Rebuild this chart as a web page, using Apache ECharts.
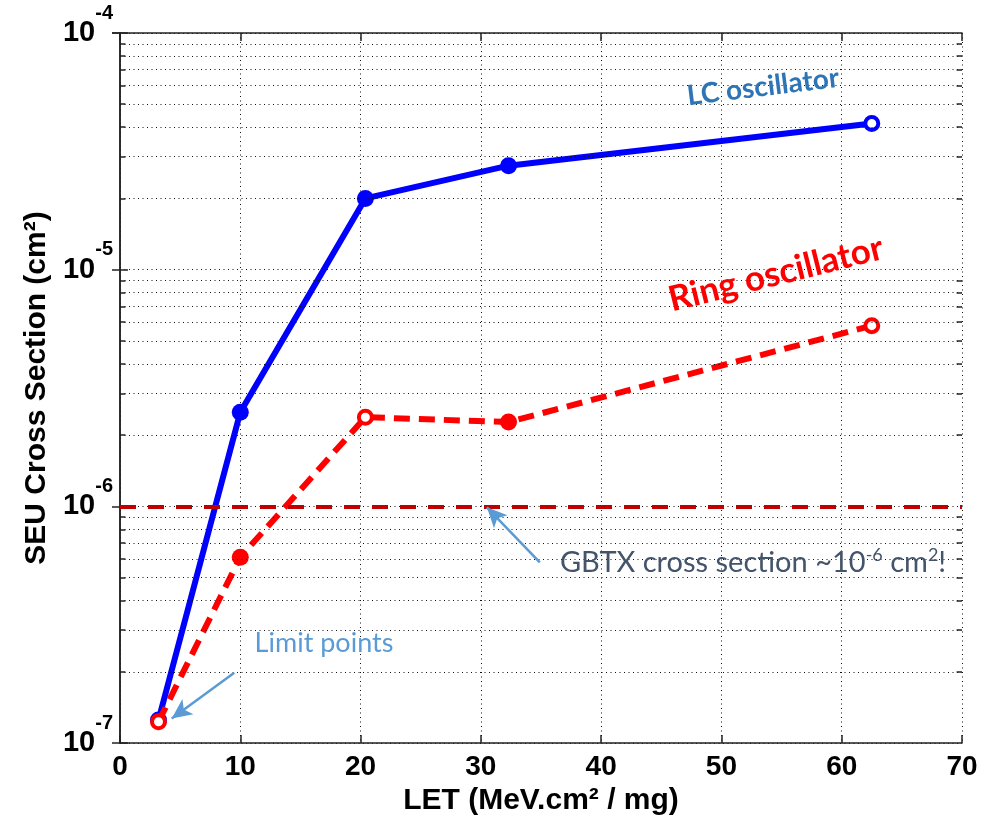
<!DOCTYPE html>
<html>
<head>
<meta charset="utf-8">
<script src="https://cdn.jsdelivr.net/npm/echarts@6/dist/echarts.min.js"></script>
<style>
  html, body { margin: 0; padding: 0; background: #fff; }
  #chart { width: 1002px; height: 815px; }
</style>
</head>
<body>
<div id="chart"></div>
<script>
// LET (MeV.cm2/mg) and SEU cross sections (cm2)
const letLC = [3.2, 10, 20.4, 32.3, 62.5];
const seuLC = [1.25e-7, 2.5e-6, 2.0e-5, 2.75e-5, 4.15e-5];
const limitLC = [true, false, false, false, true];

const letRing = [3.2, 10, 20.4, 32.3, 62.5];
const seuRing = [1.23e-7, 6.1e-7, 2.38e-6, 2.27e-6, 5.8e-6];
const limitRing = [true, false, true, false, true];

const gbtxLevel = 1e-6;
const xTicks = [0, 10, 20, 30, 40, 50, 60, 70];
const yDecades = [-7, -6, -5, -4];

// arrow annotations, in data coordinates [LET, cross section]
const limitArrow = [[9.5, 1.98e-7], [4.3, 1.27e-7]];
const gbtxArrow = [[34.9, 5.8e-7], [30.5, 9.9e-7]];

const AX_FONT = 'Liberation Sans, Arial, Helvetica, sans-serif';
const NOTE_FONT = 'Lato, "Open Sans", sans-serif';

// minor grid values 2..9 x 10^n inside each decade
const minorVals = [];
for (let e = yDecades[0]; e < yDecades[yDecades.length - 1]; e++) {
  for (let k = 2; k <= 9; k++) minorVals.push(k * Math.pow(10, e));
}

const dotted = { color: '#111', width: 1, type: [1, 3.5] };
const frame = { color: '#222', width: 1.5, type: 'solid' };

function points(xs, ys, limits, color) {
  return xs.map((x, i) => ({
    value: [x, ys[i]],
    symbolSize: limits[i] ? 13 : 17,
    itemStyle: limits[i]
      ? { color: '#fff', borderColor: color, borderWidth: 4 }
      : { color: color, borderColor: color, borderWidth: 0 }
  }));
}

const chart = echarts.init(document.getElementById('chart'), null, { renderer: 'canvas' });

const option = {
  animation: false,
  backgroundColor: '#fff',
  grid: { left: 120, right: 40, top: 33, bottom: 72, containLabel: false, outerBoundsMode: 'none' },
  xAxis: [{
    type: 'value', min: xTicks[0], max: xTicks[xTicks.length - 1], interval: 10,
    name: 'LET (MeV.cm\u00B2 / mg)', nameLocation: 'middle', nameGap: 42,
    nameTextStyle: { fontFamily: AX_FONT, fontWeight: 'bold', fontSize: 30, color: '#000' },
    axisLine: { lineStyle: frame },
    axisTick: { inside: true, length: 8, lineStyle: frame },
    axisLabel: { fontFamily: AX_FONT, fontWeight: 'bold', fontSize: 28, color: '#000', margin: 10 },
    splitLine: { show: true, lineStyle: dotted }
  }, {
    type: 'value', position: 'top', min: xTicks[0], max: xTicks[xTicks.length - 1], interval: 10,
    axisLine: { show: true, onZero: false, lineStyle: frame },
    axisTick: { inside: true, length: 8, lineStyle: frame },
    axisLabel: { show: false }, splitLine: { show: false }
  }],
  yAxis: [{
    type: 'log', logBase: 10, min: 1e-7, max: 1e-4,
    name: 'SEU Cross Section (cm\u00B2)', nameLocation: 'middle', nameGap: 67, nameRotate: 90,
    nameTextStyle: { fontFamily: AX_FONT, fontWeight: 'bold', fontSize: 30, color: '#000' },
    axisLine: { show: true, lineStyle: frame },
    axisTick: { show: true, inside: true, length: 8, lineStyle: frame },
    axisLabel: {
      margin: 7,
      formatter: function (v) {
        const e = Math.round(Math.log10(v));
        return '{b|10}{s|' + e + '}';
      },
      rich: {
        b: { fontFamily: AX_FONT, fontWeight: 'bold', fontSize: 29, lineHeight: 60, color: '#000', verticalAlign: 'middle' },
        s: { fontFamily: AX_FONT, fontWeight: 'bold', fontSize: 20, lineHeight: 20, color: '#000', verticalAlign: 'top' }
      }
    },
    splitLine: { show: true, lineStyle: dotted }
  }, {
    type: 'log', logBase: 10, min: 1e-7, max: 1e-4, position: 'right',
    axisLine: { show: true, lineStyle: frame },
    axisTick: { show: true, inside: true, length: 8, lineStyle: frame },
    axisLabel: { show: false }, splitLine: { show: false }
  }],
  series: [
    {
      // minor log grid and minor ticks on both frame sides
      type: 'line', data: [], silent: true, z: 1,
      markLine: {
        silent: true, symbol: ['none', 'none'], label: { show: false },
        animation: false,
        data: [].concat(
          minorVals.map(v => [{ coord: [0, v], lineStyle: dotted }, { coord: [70, v] }]),
          minorVals.map(v => [{ coord: [0, v], lineStyle: frame }, { coord: [0.45, v] }]),
          minorVals.map(v => [{ coord: [69.55, v], lineStyle: frame }, { coord: [70, v] }])
        )
      }
    },
    {
      // GBTX reference level and the annotation arrows
      type: 'line', data: [], silent: true, z: 4,
      markLine: {
        silent: true, animation: false, label: { show: false },
        symbol: ['none', 'none'],
        data: [
          [{ coord: [0, gbtxLevel], lineStyle: { color: '#c00000', width: 4, type: [16, 12] } },
           { coord: [70, gbtxLevel] }],
          [{ coord: limitArrow[0], symbol: 'none', lineStyle: { color: '#5b9bd5', width: 2.5, type: 'solid' } },
           { coord: limitArrow[1], symbol: 'arrow', symbolSize: [14, 20] }],
          [{ coord: gbtxArrow[0], symbol: 'none', lineStyle: { color: '#5b9bd5', width: 2.5, type: 'solid' } },
           { coord: gbtxArrow[1], symbol: 'arrow', symbolSize: [14, 20] }]
        ]
      }
    },
    {
      name: 'Ring oscillator', type: 'line', z: 3,
      data: points(letRing, seuRing, limitRing, '#ff0000'),
      symbol: 'circle',
      lineStyle: { color: '#ff0000', width: 6, type: [16, 9] },
      itemStyle: { color: '#ff0000' }
    },
    {
      name: 'LC oscillator', type: 'line', z: 2,
      data: points(letLC, seuLC, limitLC, '#0000ff'),
      symbol: 'circle',
      lineStyle: { color: '#0000ff', width: 6, type: 'solid' },
      itemStyle: { color: '#0000ff' }
    }
  ],
  graphic: [
    {
      type: 'text', x: 763, y: 87, rotation: 7 * Math.PI / 180, z: 10,
      style: { text: 'LC oscillator', fill: '#2e75b6', font: 'bold 28px ' + NOTE_FONT, align: 'center', verticalAlign: 'middle' }
    },
    {
      type: 'text', x: 776, y: 274, rotation: 14 * Math.PI / 180, z: 10,
      style: { text: 'Ring oscillator', fill: '#ff0000', font: 'bold 35px ' + NOTE_FONT, align: 'center', verticalAlign: 'middle' }
    },
    {
      type: 'text', x: 324, y: 643, z: 10,
      style: { text: 'Limit points', fill: '#5b9bd5', font: '27px ' + NOTE_FONT, align: 'center', verticalAlign: 'middle' }
    },
    {
      type: 'text', x: 753, y: 563, z: 10,
      style: {
        text: '{t|GBTX cross section ~10}{s|-6}{t| cm}{s|2}{t|!}',
        align: 'center', verticalAlign: 'middle',
        rich: {
          t: { fill: '#44546a', fontFamily: NOTE_FONT, fontSize: 29, lineHeight: 34, verticalAlign: 'middle' },
          s: { fill: '#44546a', fontFamily: NOTE_FONT, fontSize: 18, lineHeight: 18, verticalAlign: 'top' }
        }
      }
    }
  ]
};

chart.setOption(option);
</script>
</body>
</html>
